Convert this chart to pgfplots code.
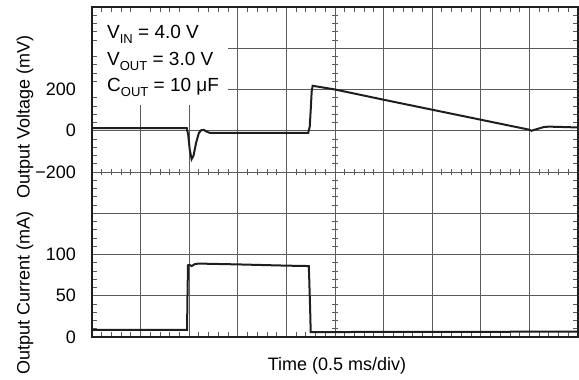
\documentclass[border=0pt]{standalone}
\usepackage{pgfplots}
\pgfplotsset{compat=1.18}
\usepackage{fontspec}
\setmainfont{Liberation Sans}
\definecolor{gridc}{HTML}{5A5A5A}
\definecolor{trace}{HTML}{1E1E1E}
\newcommand\sub[1]{\raisebox{-0.28em}{\fontsize{13bp}{13bp}\selectfont #1}}
\pgfplotsset{
  base/.style={at={(92bp,42bp)}, anchor=south west, scale only axis,
    width=486bp, height=330bp},
  half/.style={anchor=south west, scale only axis, width=486bp, height=165bp,
    xmin=0, xmax=10, xtick=\empty, axis line style={draw=none},
    major tick length=0pt, clip=false,
    yticklabel style={anchor=east, inner sep=0pt, xshift=-16bp}},
}
\begin{document}
\fontsize{18bp}{21bp}\selectfont
\begin{tikzpicture}[x=1bp,y=1bp]
\useasboundingbox (0,0) rectangle (579,379);
% grid + white label box
\begin{axis}[base, xmin=0, xmax=10, ymin=0, ymax=8,
  xtick={0,...,10}, ytick={0,...,8}, grid=major,
  grid style={gridc, line width=1bp}, axis line style={draw=none},
  major tick length=0pt, xticklabels={}, yticklabels={}]
  \fill[white] (0,5.62) rectangle (2.8,8);
\end{axis}
% center cross ticks
\begin{axis}[base, xmin=-5, xmax=5, ymin=-4, ymax=4, axis lines=middle,
  axis line style={draw=none}, xtick={-5,...,5}, ytick={-4,...,4},
  minor x tick num=4, minor y tick num=4, tick align=center,
  major tick length=0pt, minor tick length=6bp,
  tick style={gridc, line width=0.9bp}, xticklabels={}, yticklabels={}]
\end{axis}
% frame + edge ticks
\begin{axis}[base, xmin=0, xmax=10, ymin=0, ymax=8,
  xtick={0,...,10}, ytick={0,...,8}, minor x tick num=4, minor y tick num=4,
  tick align=inside, major tick length=0pt, minor tick length=5bp,
  tick style={gridc, line width=0.9bp}, xticklabels={}, yticklabels={},
  axis line style={line width=2.4bp, trace}]
\end{axis}
% output voltage
\begin{axis}[half, at={(92bp,207bp)}, ymin=-200, ymax=600,
  ytick={-200,0,200}, yticklabels={−200,0,200}]
\addplot[trace, line width=2bp] coordinates {
(0,13) (1.95,13) (1.98,-20) (2.01,-90) (2.05,-138) (2.09,-120) (2.14,-60)
(2.2,-10) (2.25,3) (2.3,4) (2.35,-3) (2.42,-10) (4.45,-10) (4.48,20)
(4.50,100) (4.52,190) (4.54,218) (5.0,200) (6.03,149) (7.02,101)
(8.03,52) (9.0,5) (9.04,0) (9.15,8) (9.3,18) (9.4,20) (10,16)};
\end{axis}
% output current
\begin{axis}[half, at={(92bp,42bp)}, ymin=0, ymax=200,
  ytick={0,50,100}, yticklabels={0,50,100}]
\addplot[trace, line width=2bp] coordinates {
(0,8.5) (1.955,8.5) (1.965,50) (1.975,87) (2.0,87.5) (2.05,86) (2.12,88.5)
(2.2,89) (3.0,88) (4.0,86.5) (4.46,86) (4.47,70) (4.49,30) (4.5,6)
(4.6,6) (10,6.5)};
\end{axis}
\node[rotate=90] at (25,262) {Output Voltage (mV)};
\node[rotate=90] at (25,86) {Output Current (mA)};
\node[anchor=base] at (337,9) {Time (0.5 ms/div)};
\begin{scope}[every node/.style={anchor=base west, inner sep=0pt,
    font=\fontsize{19bp}{21bp}\selectfont}]
\node at (107,341) {V\sub{IN} = 4.0 V};
\node at (107,314) {V\sub{OUT} = 3.0 V};
\node at (107,288) {C\sub{OUT} = 10 μF};
\end{scope}
\end{tikzpicture}
\end{document}
